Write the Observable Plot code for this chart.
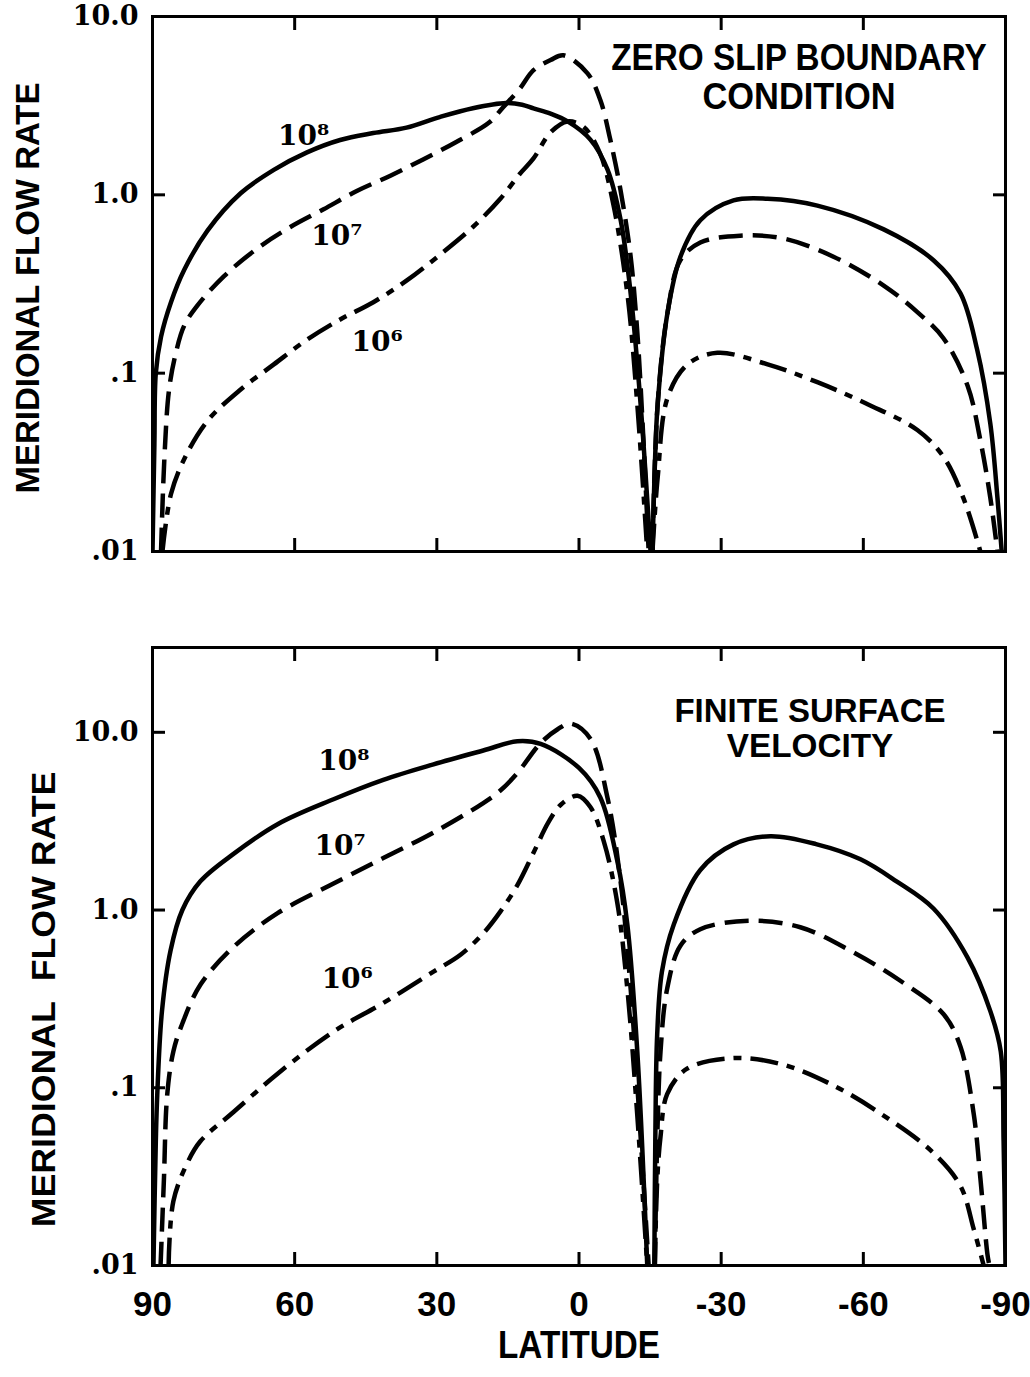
<!DOCTYPE html>
<html>
<head>
<meta charset="utf-8">
<script src="https://cdn.jsdelivr.net/npm/d3@7"></script>
<script src="https://cdn.jsdelivr.net/npm/@observablehq/plot@0.6"></script>
<style>
  html, body { margin: 0; padding: 0; background: #fff; }
  #chart { width: 1030px; }
  #chart svg { display: block; }
</style>
</head>
<body>
<div id="chart"></div>
<script>
// ---------- ticks ----------
const latTicks = [90, 60, 30, 0, -30, -60, -90];
const innerLatTicks = [60, 30, 0, -30, -60];
const yTickValues = [0.01, 0.1, 1, 10];
const yTickLabels = [".01", ".1", "1.0", "10.0"];

// ---------- series keys / labels ----------
const seriesKeys = ["1e8", "1e7", "1e6"];
const seriesLabels = ["10\u2078", "10\u2077", "10\u2076"];

// ---------- ZERO SLIP BOUNDARY CONDITION (top) : [latitude, flow rate] ----------
const zeroSlip_1e8_N = [[90,0.01],[89.6,0.04],[89.3,0.1],[88.2,0.16],[86.1,0.25],[83.3,0.38],[78.4,0.63],[71.4,1.02],[64.4,1.38],[57.4,1.73],[50.4,2.03],[43.4,2.22],[36.4,2.38],[29.4,2.73],[22.4,3.06],[15.4,3.27],[12,3.2],[9.6,3.05],[6,2.85],[2.4,2.58],[-2.4,2.04],[-6,1.39],[-8.8,0.72],[-10.9,0.28],[-13,0.067],[-15.1,0.01]];
const zeroSlip_1e8_S = [[-15.5,0.01],[-16.0,0.03],[-16.6,0.067],[-18.7,0.22],[-21.4,0.45],[-25.6,0.72],[-32.6,0.93],[-39.8,0.95],[-50.3,0.87],[-64.3,0.64],[-74.8,0.43],[-80.5,0.28],[-84,0.136],[-86.8,0.052],[-88.3,0.02],[-89.2,0.01]];
const zeroSlip_1e7_N = [[88.2,0.01],[87.5,0.033],[86.5,0.081],[85.1,0.129],[83.3,0.185],[80.5,0.24],[74.9,0.35],[67.9,0.5],[60.9,0.66],[53.9,0.83],[46.9,1.05],[39.8,1.28],[32.9,1.58],[25.9,1.98],[18.9,2.55],[16,3.1],[12.6,3.9],[9.6,5.0],[6,5.7],[3.3,6.06],[-1.8,4.8],[-4.5,3.4],[-6.6,2.04],[-8.8,1.05],[-10.9,0.45],[-12.3,0.17],[-13.6,0.042],[-14.7,0.01]];
const zeroSlip_1e7_S = [[-15.5,0.01],[-16.6,0.067],[-18.7,0.22],[-21.4,0.43],[-25.6,0.54],[-34,0.59],[-43,0.57],[-53.7,0.45],[-64.3,0.31],[-71.4,0.22],[-76.9,0.157],[-82,0.085],[-84.7,0.042],[-86.8,0.02],[-88.3,0.01]];
const zeroSlip_1e6_N = [[87.9,0.01],[86.1,0.021],[83.3,0.033],[78.4,0.054],[71.4,0.081],[64.4,0.112],[57.4,0.154],[50.4,0.2],[43.4,0.25],[36.4,0.33],[29.4,0.46],[22.4,0.66],[16.6,0.95],[12.6,1.3],[9.6,1.6],[6,2.24],[2.4,2.58],[-1,2.4],[-4.5,1.69],[-7.3,0.87],[-10.2,0.28],[-12.3,0.067],[-14.4,0.01]];
const zeroSlip_1e6_S = [[-15.5,0.01],[-16.6,0.026],[-18.7,0.073],[-22.9,0.112],[-29.2,0.13],[-39.8,0.112],[-50.3,0.089],[-60.9,0.067],[-71.4,0.048],[-76.9,0.034],[-81.1,0.02],[-84.7,0.01]];
const zeroSlipLabelLat = [59.5, 52.5, 44];
const zeroSlipLabelVal = [2.15, 0.59, 0.15];

// ---------- FINITE SURFACE VELOCITY (bottom) ----------
const finite_1e8_N = [[89.8,0.01],[89.3,0.05],[89,0.091],[88,0.27],[86.2,0.59],[83.7,1.0],[79.9,1.45],[72.9,2.07],[63.6,3.04],[51.8,4.2],[41.3,5.4],[30.7,6.6],[20.2,7.9],[13,8.9],[8.1,8.6],[0,6.3],[-4.5,4.3],[-8.1,1.88],[-10.2,0.83],[-12.3,0.16],[-14.4,0.01]];
const finite_1e8_S = [[-15.9,0.01],[-16.1,0.05],[-16.5,0.2],[-17.5,0.45],[-20,0.83],[-25.6,1.68],[-32.6,2.34],[-40.4,2.6],[-50,2.35],[-59.4,1.93],[-67,1.45],[-74.8,1.02],[-82,0.54],[-86.8,0.27],[-89,0.16],[-89.6,0.05],[-90,0.01]];
const finite_1e7_N = [[88.3,0.01],[87.6,0.03],[86.9,0.091],[85.6,0.16],[83.7,0.23],[79.9,0.38],[72.9,0.62],[63.6,0.96],[51.8,1.41],[41.3,1.96],[30.7,2.73],[20.2,4.0],[16.6,4.7],[13,5.9],[8.1,8.7],[4.5,10.4],[1.8,11.2],[-2.4,9.2],[-6,4.3],[-8.8,1.43],[-10.9,0.36],[-13,0.053],[-14.7,0.01]];
const finite_1e7_S = [[-16.0,0.01],[-16.5,0.05],[-17.2,0.16],[-18.6,0.36],[-21.4,0.63],[-25.6,0.78],[-36,0.87],[-46.7,0.8],[-57.3,0.59],[-67.8,0.4],[-76.9,0.26],[-80.5,0.17],[-83.3,0.071],[-84.7,0.031],[-86.2,0.0115],[-86.6,0.01]];
const finite_1e6_N = [[86.6,0.01],[85.6,0.023],[82.6,0.038],[79.9,0.05],[72.9,0.073],[63.6,0.12],[51.8,0.207],[41.3,0.3],[30.7,0.45],[25,0.56],[20.2,0.74],[16.6,0.98],[13,1.38],[9.6,2.1],[6.5,3.1],[3.9,3.9],[0.3,4.4],[-2.4,3.8],[-5.2,2.45],[-8.1,1.09],[-10.2,0.36],[-12.3,0.07],[-14.4,0.01]];
const finite_1e6_S = [[-16.0,0.01],[-16.5,0.03],[-17.2,0.053],[-18.6,0.092],[-22.8,0.128],[-32.6,0.147],[-43,0.135],[-53.7,0.103],[-64.2,0.07],[-74.8,0.043],[-80.5,0.028],[-83.3,0.016],[-85.4,0.01]];
const finiteLabelLat = [51, 51.8, 50.3];
const finiteLabelVal = [6.9, 2.3, 0.41];

// ---------- styles ----------
const dashFor = {"1e8": null, "1e7": "24,10", "1e6": "28,9,8,9"};
const fontSans = "'Liberation Sans',Arial,Helvetica,sans-serif";
const fontSerif = "'DejaVu Serif','Liberation Serif',serif";
// horizontal condensing of some texts (ratio to the natural width)
const textSqueeze = {
  "ZERO SLIP BOUNDARY": 0.9, "CONDITION": 0.93,
  "FINITE SURFACE": 0.97, "VELOCITY": 0.98,
  "LATITUDE": 0.875,
  "MERIDIONAL FLOW RATE": 0.97, "MERIDIONAL\u00a0\u00a0FLOW RATE": 1.05
};

function buildRows(pairs) {
  const rows = [];
  for (const [key, north, south] of pairs) {
    for (const [lat, v] of north) rows.push({lat, v, key, branch: key + "N"});
    for (const [lat, v] of south) rows.push({lat, v, key, branch: key + "S"});
  }
  return rows;
}

function panel(cfg) {
  const rows = buildRows(cfg.pairs);
  const labels = seriesKeys.map((k, i) => ({lat: cfg.labelLat[i], v: cfg.labelVal[i], label: seriesLabels[i]}));
  const marks = [];
  for (const k of seriesKeys) {
    marks.push(Plot.line(rows.filter(d => d.key === k), {
      x: "lat", y: "v", z: "branch", stroke: "#000", strokeWidth: 4.5,
      strokeDasharray: dashFor[k], strokeLinecap: "butt", strokeLinejoin: "round",
      curve: "catmull-rom", clip: true
    }));
  }
  marks.push(Plot.text(labels, {x: "lat", y: "v", text: "label", textAnchor: "start", dx: -19,
    fontFamily: fontSerif, fontWeight: "bold", fontSize: 28, fill: "#000"}));
  marks.push(Plot.frame({stroke: "#000", strokeWidth: 3}));
  marks.push(Plot.axisX(innerLatTicks, {anchor: "bottom", tickSize: 13, dy: -13, strokeWidth: 3, tickFormat: () => "", label: null}));
  marks.push(Plot.axisX(innerLatTicks, {anchor: "top", tickSize: 13, dy: 13, strokeWidth: 3, tickFormat: () => "", label: null}));
  marks.push(Plot.axisY(cfg.innerY, {anchor: "left", tickSize: 13, dx: 13, strokeWidth: 3, tickFormat: () => "", label: null}));
  marks.push(Plot.axisY(cfg.innerY, {anchor: "right", tickSize: 13, dx: -13, strokeWidth: 3, tickFormat: () => "", label: null}));
  marks.push(Plot.axisY(yTickValues, {anchor: "left", tickSize: 0, tickPadding: 14,
    tickFormat: d => yTickLabels[yTickValues.indexOf(d)],
    fontFamily: fontSerif, fontWeight: "bold", fontSize: 27, label: null}));
  if (cfg.xLabels) {
    marks.push(Plot.axisX(latTicks, {anchor: "bottom", tickSize: 0, tickPadding: 26,
      tickFormat: d => String(d), fontFamily: fontSans, fontWeight: "bold", fontSize: 35, label: null}));
    marks.push(Plot.text(["LATITUDE"], {frameAnchor: "bottom", textAnchor: "middle", lineAnchor: "middle", dy: 80, text: d => d,
      fontFamily: fontSans, fontWeight: "bold", fontSize: 38, fill: "#000"}));
  }
  marks.push(Plot.text([cfg.yTitle], {frameAnchor: "left", textAnchor: "middle", lineAnchor: "middle", rotate: -90,
    dx: cfg.yTitleDx, dy: cfg.yTitleDy, text: d => d,
    fontFamily: fontSans, fontWeight: "bold", fontSize: 34, fill: "#000"}));
  marks.push(Plot.text([cfg.title], {frameAnchor: "top", textAnchor: "middle", lineAnchor: "middle", dx: cfg.titleDx, dy: cfg.titleDy, text: d => d,
    lineHeight: cfg.titleLH, fontFamily: fontSans, fontWeight: "bold", fontSize: cfg.titleSize, fill: "#000"}));

  return Plot.plot({
    width: 1030,
    height: cfg.height,
    marginLeft: 152,
    marginRight: 25,
    marginTop: cfg.marginTop,
    marginBottom: cfg.marginBottom,
    style: {background: "#fff", color: "#000", overflow: "visible"},
    x: {domain: [90, -90]},
    y: {type: "log", domain: cfg.yDomain},
    marks
  });
}

const topPanel = panel({
  height: 600, marginTop: 16, marginBottom: 49, yDomain: [0.01, 10],
  pairs: [["1e8", zeroSlip_1e8_N, zeroSlip_1e8_S], ["1e7", zeroSlip_1e7_N, zeroSlip_1e7_S], ["1e6", zeroSlip_1e6_N, zeroSlip_1e6_S]],
  labelLat: zeroSlipLabelLat, labelVal: zeroSlipLabelVal,
  innerY: [0.1, 1],
  xLabels: false,
  yTitle: "MERIDIONAL FLOW RATE", yTitleDx: -124, yTitleDy: 4,
  title: "ZERO SLIP BOUNDARY\nCONDITION", titleDx: 220, titleDy: 60.5, titleLH: 1.054, titleSize: 37
});
const bottomPanel = panel({
  height: 777, marginTop: 47, marginBottom: 112, yDomain: [0.01, 30],
  pairs: [["1e8", finite_1e8_N, finite_1e8_S], ["1e7", finite_1e7_N, finite_1e7_S], ["1e6", finite_1e6_N, finite_1e6_S]],
  labelLat: finiteLabelLat, labelVal: finiteLabelVal,
  innerY: [0.1, 1, 10],
  xLabels: true,
  yTitle: "MERIDIONAL\u00a0\u00a0FLOW RATE", yTitleDx: -108, yTitleDy: 43,
  title: "FINITE SURFACE\nVELOCITY", titleDx: 231, titleDy: 80.5, titleLH: 1.04, titleSize: 34
});
document.getElementById("chart").append(topPanel, bottomPanel);

// condense / stretch selected texts to the reference widths
document.querySelectorAll("#chart text, #chart tspan").forEach(el => {
  if (el.tagName === "text" && el.querySelector("tspan")) return;
  const f = textSqueeze[el.textContent];
  if (!f) return;
  const len = el.getComputedTextLength();
  el.setAttribute("textLength", (len * f).toFixed(1));
  el.setAttribute("lengthAdjust", "spacingAndGlyphs");
});
</script>
</body>
</html>
